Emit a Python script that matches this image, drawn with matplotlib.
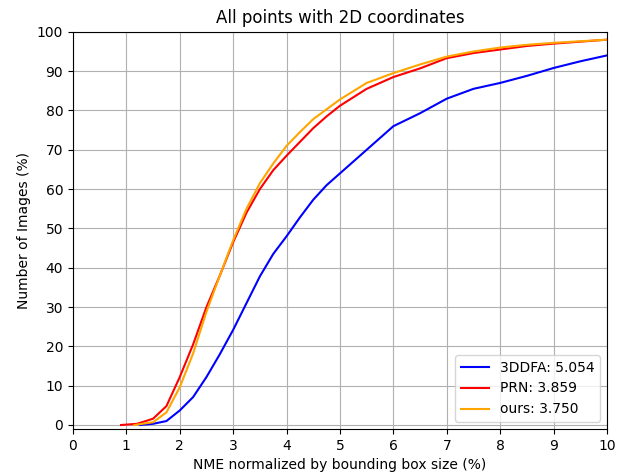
import numpy as np
import matplotlib
matplotlib.use('Agg')
import matplotlib.pyplot as plt

# curve samples (x in %, y in % of images)
x_3ddfa = [1.25, 1.5, 1.75, 2.0, 2.25, 2.5, 2.75, 3.0, 3.25, 3.5, 3.75, 4.0, 4.25, 4.5, 4.75,
           5.0, 5.25, 5.5, 5.75, 6.0, 6.5, 7.0, 7.5, 8.0, 8.5, 9.0, 9.5, 10.0]
y_3ddfa = [0.0, 0.3, 1.0, 3.7, 7.1, 12.2, 18.0, 24.2, 31.0, 37.8, 43.5, 48.0, 52.8, 57.3, 61.0,
           64.0, 67.0, 70.0, 73.0, 76.0, 79.3, 83.0, 85.5, 87.0, 88.8, 90.8, 92.5, 94.0]

x_prn = [0.9, 1.2, 1.5, 1.75, 2.0, 2.25, 2.5, 2.75, 3.0, 3.25, 3.5, 3.75, 4.0, 4.25, 4.5, 4.75,
         5.0, 5.5, 6.0, 6.5, 7.0, 7.5, 8.0, 8.5, 9.0, 9.5, 10.0]
y_prn = [0.0, 0.3, 1.6, 4.8, 12.2, 20.5, 30.0, 38.0, 46.5, 54.0, 60.0, 64.8, 68.5, 72.0, 75.5, 78.5,
         81.2, 85.5, 88.5, 90.7, 93.3, 94.6, 95.5, 96.4, 97.0, 97.5, 98.0]

x_ours = [1.15, 1.5, 1.75, 2.0, 2.25, 2.5, 2.75, 3.0, 3.25, 3.5, 3.75, 4.0, 4.25, 4.5, 4.75,
          5.0, 5.5, 6.0, 6.5, 7.0, 7.5, 8.0, 8.5, 9.0, 9.5, 10.0]
y_ours = [0.0, 0.7, 3.2, 9.6, 18.2, 28.8, 38.0, 47.0, 55.0, 61.5, 66.5, 71.0, 74.5, 77.8, 80.3,
          82.8, 87.0, 89.5, 91.7, 93.7, 95.0, 96.0, 96.7, 97.2, 97.6, 98.0]

labels = ['3DDFA: 5.054', 'PRN: 3.859', 'ours: 3.750']
colors = ['blue', 'red', 'orange']

fig = plt.figure(figsize=(6.29, 4.75), dpi=100)
ax = fig.add_axes([0.116, 0.097, 0.849, 0.836])

ax.plot(x_3ddfa, y_3ddfa, color=colors[0], lw=1.5, label=labels[0])
ax.plot(x_prn, y_prn, color=colors[1], lw=1.5, label=labels[1])
ax.plot(x_ours, y_ours, color=colors[2], lw=1.5, label=labels[2])

ax.set_xlim(0, 10)
ax.set_ylim(-1, 100)
ax.set_xticks(np.arange(0, 11, 1))
ax.set_yticks(np.arange(0, 101, 10))
ax.grid(True)
ax.set_title('All points with 2D coordinates')
ax.set_xlabel('NME normalized by bounding box size (%)')
ax.set_ylabel('Number of Images (%)')
ax.legend(loc='lower right')

fig.savefig('out.png', dpi=100)
